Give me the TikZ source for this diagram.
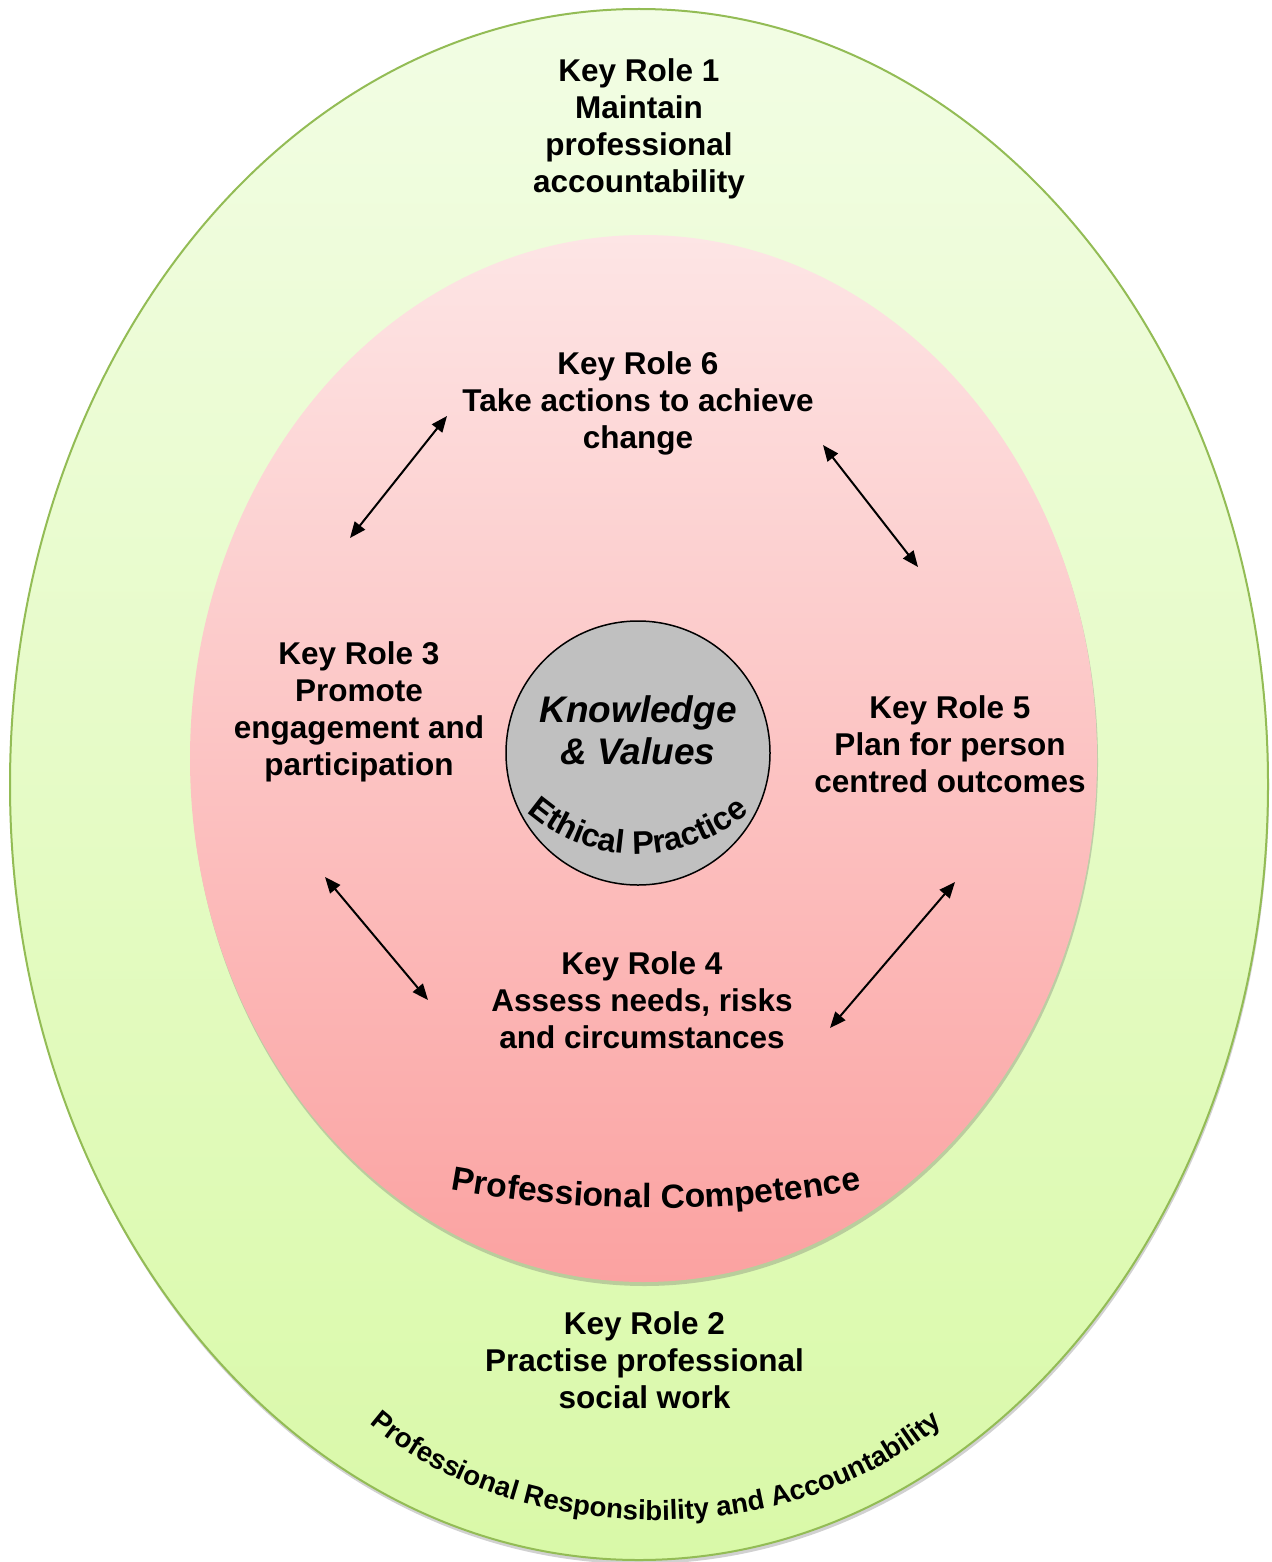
\documentclass[tikz,border=0pt]{standalone}
\usepackage{fontspec}
\setmainfont{Liberation Sans}
\usetikzlibrary{shapes.geometric,arrows.meta,decorations.text,shadows}
\definecolor{outerTop}{HTML}{F2FDE4}
\definecolor{outerBot}{HTML}{D9F9A8}
\definecolor{outerLine}{HTML}{93BC55}
\definecolor{innerTop}{HTML}{FDE5E5}
\definecolor{innerBot}{HTML}{FBA2A1}
\definecolor{coreFill}{HTML}{C0C0C0}
\newcommand\rolefont{\fontsize{15.75pt}{18.5pt}\selectfont\bfseries}
\newcommand\corefont{\fontsize{18.5pt}{21pt}\selectfont\bfseries\itshape}
\newcommand\ethfont{\fontsize{16.3pt}{16.3pt}\selectfont\bfseries}
\newcommand\compfont{\fontsize{16.8pt}{16.8pt}\selectfont\bfseries}
\newcommand\respfont{\fontsize{13.8pt}{13.8pt}\selectfont\bfseries}
\begin{document}
\begin{tikzpicture}[x=0.5pt,y=0.5pt,
  role/.style={align=center,inner sep=0pt,font=\rolefont},
  biarrow/.style={line width=1pt,{Triangle[length=8pt,width=6.5pt]}-{Triangle[length=8pt,width=6.5pt]}},
  softshadow/.style={drop shadow={opacity=0.3,shadow xshift=0.5pt,shadow yshift=-2pt,fill=black!60}}]
\useasboundingbox (0,0) rectangle (1271,-1562);
% outer ellipse
\node[ellipse,draw=outerLine,line width=1pt,top color=outerTop,bottom color=outerBot,
      minimum width=629pt,minimum height=775.5pt,inner sep=0pt,softshadow] (outer) at (639,-784.5) {};
% inner ellipse
\node[ellipse,top color=innerTop,bottom color=innerBot,
      minimum width=453.5pt,minimum height=523.5pt,inner sep=0pt,softshadow] (inner) at (643.5,-758.5) {};
% core circle
\node[circle,draw=black,line width=0.75pt,fill=coreFill,minimum size=132pt,inner sep=0pt] (core) at (638,-753) {};
\node[align=center,inner sep=0pt,font=\corefont] (kv) at (638,-730) {Knowledge\\\& Values};
% curved texts
\path[decorate,decoration={text along path,text align=center,text format delimiters={|}{|},
      text={|\ethfont|Ethical Practice}}]
  ([shift={(220:84pt)}]638,-686) arc[start angle=220,end angle=320,radius=84pt];
\path[decorate,decoration={text along path,text align=center,text format delimiters={|}{|},
      text={|\compfont|Professional Competence}}]
  ([shift={(256:577pt)}]656,-54) arc[start angle=256,end angle=284,radius=577pt];
\path[decorate,decoration={text along path,text align=center,text format delimiters={|}{|},
      text={|\respfont|Professional Responsibility and Accountability}}]
  ([shift={(212:185pt and 131.5pt)}]656,-1257) arc[start angle=212,end angle=328,x radius=185pt,y radius=131.5pt];
% role texts
\node[role] (kr1) at (639,-129) {Key Role 1\\Maintain\\professional\\accountability};
\node[role] (kr6) at (638,-403.5) {Key Role 6\\Take actions to achieve\\change};
\node[role] (kr3) at (359,-712) {Key Role 3\\Promote\\engagement and\\participation};
\node[role] (kr5) at (950,-744) {Key Role 5\\Plan for person\\centred outcomes};
\node[role] (kr4) at (642,-1000) {Key Role 4\\Assess needs, risks\\and circumstances};
\node[role] (kr2) at (644.5,-1360) {Key Role 2\\Practise professional\\social work};
% arrows
\coordinate (a1s) at (350,-538); \coordinate (a1e) at (447,-416);
\coordinate (a2s) at (823,-445); \coordinate (a2e) at (918,-567);
\coordinate (a3s) at (325,-877); \coordinate (a3e) at (428,-1000);
\coordinate (a4s) at (830,-1028); \coordinate (a4e) at (955,-882);
\draw[biarrow] (a1s) -- (a1e);
\draw[biarrow] (a2s) -- (a2e);
\draw[biarrow] (a3s) -- (a3e);
\draw[biarrow] (a4s) -- (a4e);
\end{tikzpicture}
\end{document}
